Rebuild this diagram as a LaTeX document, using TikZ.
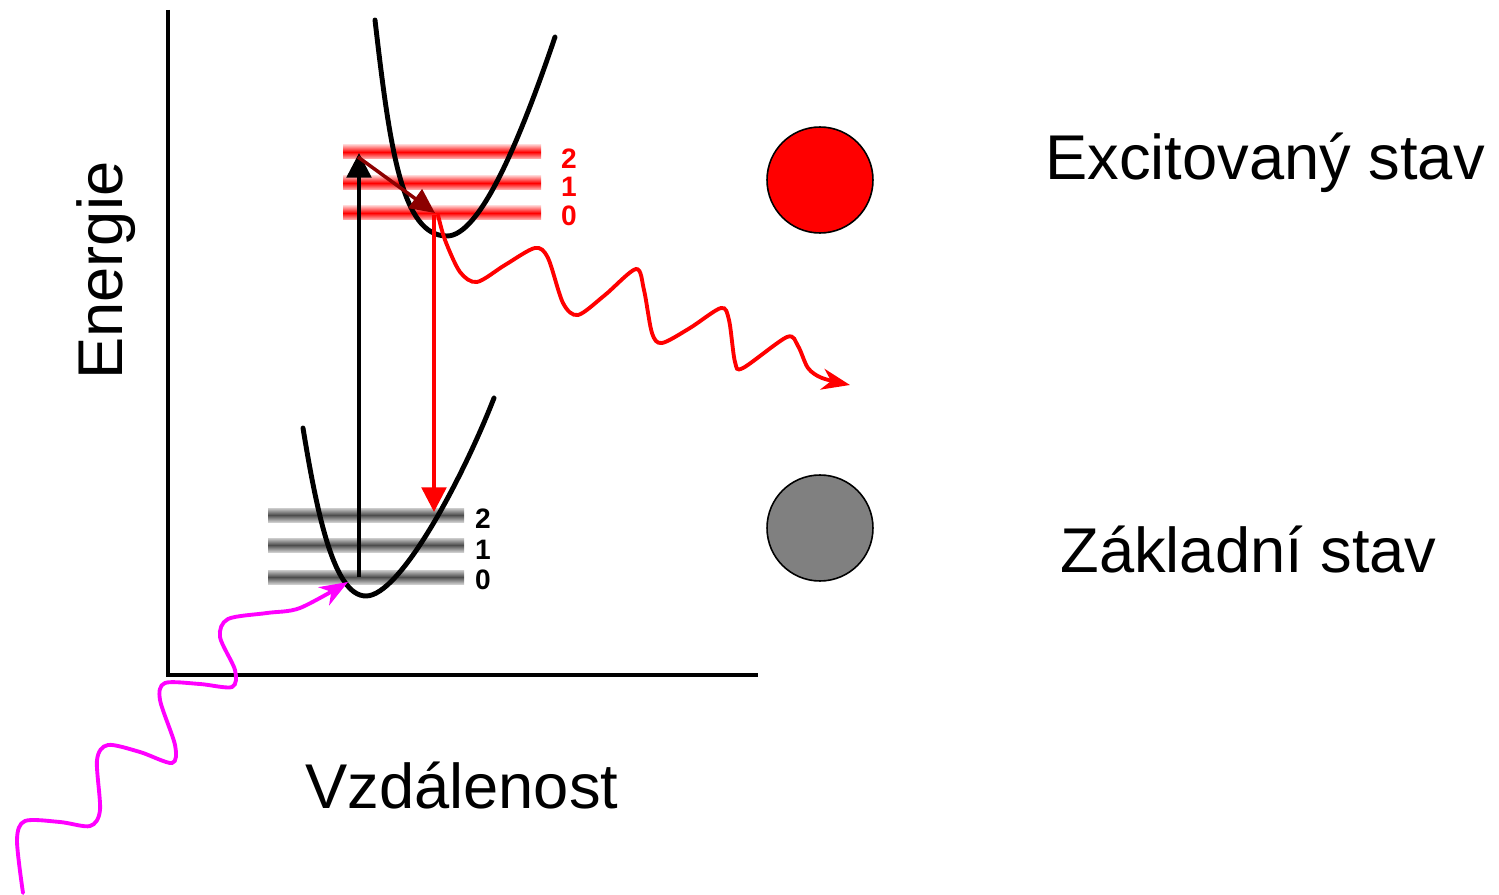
\documentclass[tikz,border=0pt]{standalone}
\usepackage{fontspec}
\setmainfont{Liberation Sans}
\usetikzlibrary{arrows.meta}
\definecolor{photon}{RGB}{255,0,255}

\begin{document}
\begin{tikzpicture}[x=0.02cm, y=-0.02cm,
    big/.style={font=\fontsize{36}{40}\selectfont, inner sep=0pt},
    num/.style={font=\fontsize{16}{18}\selectfont\bfseries, inner sep=0pt},
    curve/.style={line width=2.8pt, line join=round, line cap=round},
    wave/.style={line width=2.2pt, line cap=round},
    ball/.style={circle, draw, line width=0.9pt, minimum size=2.12cm, inner sep=0pt}]
    \useasboundingbox (0,0) rectangle (1499,895);

    % axes
    \draw[line width=2.8pt] (168,10) -- (168,675) -- (758,675);
    \node[big, rotate=90, anchor=base west] (energie) at (122,380) {Energie};
    \node[big, anchor=base west] (vzdal) at (305,808) {Vzdálenost};

    % vibrational levels
    \foreach \y/\t/\n in {152/159/2, 183/187/1, 213/216/0} {
        \shade[top color=red!25, bottom color=red!25, middle color=red] (343,\y-7) rectangle (541,\y+7);
        \node[num, text=red] (e\n) at (569,\t) {\n};
    }
    \foreach \y/\t/\n in {515/519/2, 545/550/1, 577/580/0} {
        \shade[top color=black!20, bottom color=black!20, middle color=black!70] (268,\y-7) rectangle (464,\y+7);
        \node[num] (g\n) at (483,\t) {\n};
    }

    % potential curves
    \draw[curve] (375,20) .. controls (390,150) and (402,236) .. (447,236)
        .. controls (480,236) and (520,140) .. (555,37);
    \draw[curve] (303,428) .. controls (318,520) and (335,596) .. (366,596)
        .. controls (400,596) and (462,480) .. (494,398);

    % transitions
    \coordinate (gnd) at (359,577);
    \coordinate (top) at (359,153);
    \coordinate (topb) at (358,157);
    \coordinate (low) at (435,213);
    \coordinate (lowb) at (434,215);
    \coordinate (gtop) at (434,512);
    \draw[line width=2pt, -{Triangle[length=14pt, width=14pt]}] (gnd) -- (top);
    \draw[line width=2pt, red!55!black, -{Triangle[length=14pt, width=13pt]}] (topb) -- (low);
    \draw[line width=2pt, red, -{Triangle[length=14pt, width=14pt]}] (lowb) -- (gtop);

    % emitted photon
    \draw[wave, red, -{Stealth[length=16pt, width=12pt, inset=5pt]}] plot[smooth, tension=0.5] coordinates {(438,215) (445,240) (460,272) (477,282) (505,265) (535,248) (548,258) (563,303) (578,315) (605,295) (636,269) (644,290) (652,333) (662,343) (690,328) (721,308) (729,320) (735,362) (743,368) (787,337) (798,346) (808,368) (822,378) (850,385)};

    % absorbed photon
    \draw[wave, photon, -{Stealth[length=16pt, width=12pt, inset=5pt]}] plot[smooth, tension=0.5] coordinates {(23,893) (17,840) (25,821) (60,822) (90,826) (100,810) (97,760) (108,745) (140,752) (172,763) (175,745) (160,700) (165,683) (200,684) (232,687) (235,670) (220,637) (228,619) (267,613) (300,608) (348,582)};

    % states
    \node[ball, fill=red] (exc) at (820,180) {};
    \node[ball, fill=black!50] (gr) at (820,528) {};
    \node[big, anchor=base west] (exctext) at (1045,180) {Excitovaný stav};
    \node[big, anchor=base west] (grtext) at (1060,572) {Základní stav};
\end{tikzpicture}
\end{document}
